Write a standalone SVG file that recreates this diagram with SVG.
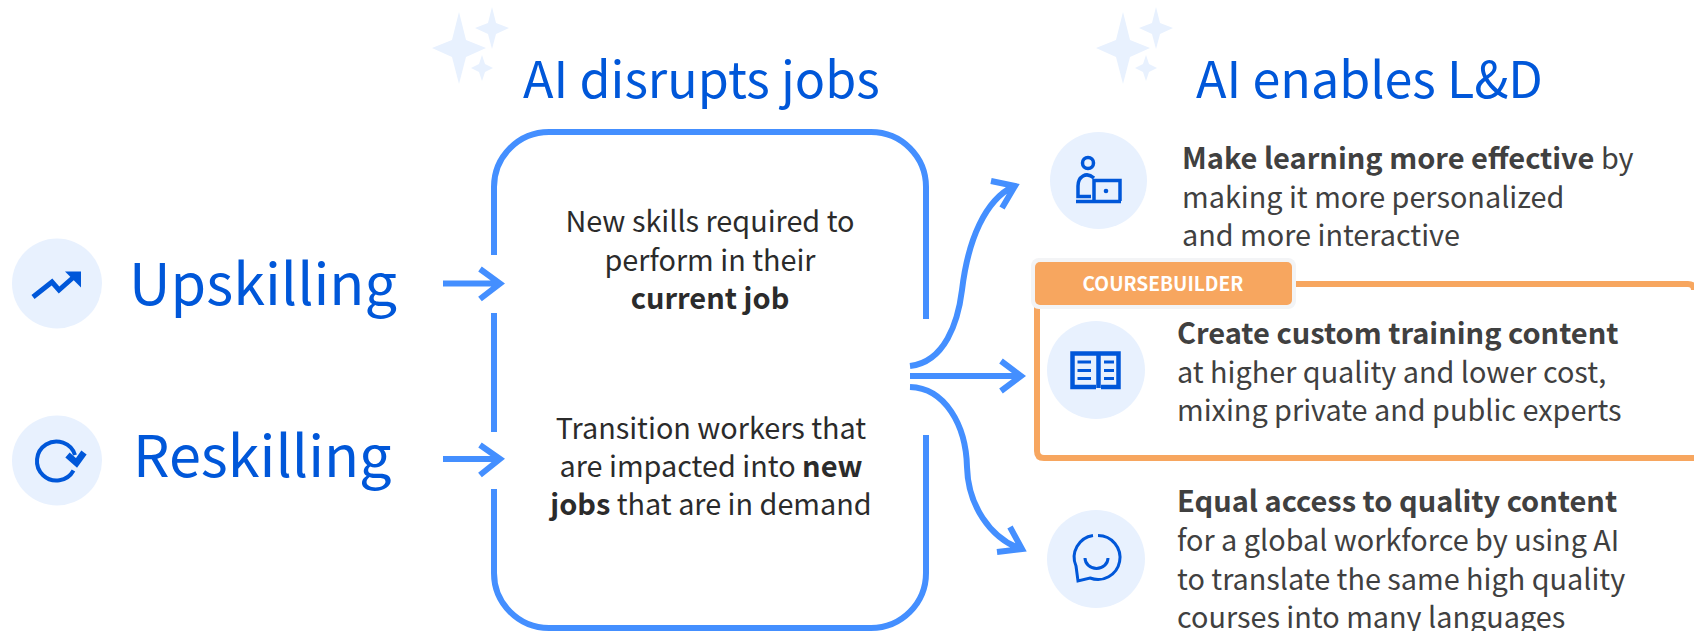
<svg xmlns="http://www.w3.org/2000/svg" width="1694" height="631" viewBox="0 0 1694 631">
<style>
text{font-family:"Noto Sans CJK SC","Source Sans Pro","Noto Sans",sans-serif}
.h{fill:#0057d9;font-size:50.200px}
.k{fill:#0057d9;font-size:57.600px}
.b{fill:#2b2b2b;font-size:28.800px}
.r{fill:#404040;font-size:28.800px}
.s{font-weight:700;font-size:29px}
.bg{fill:#e8f1fe}
.ic{fill:none;stroke:#0057d9;stroke-width:3.500}
.line{fill:none;stroke:#448fff;stroke-width:6}
.star{fill:#e8f1fe}
</style>
<rect width="1694" height="631" fill="#fff"/>
<g id="stars-left"><path class="star" d="M459 12L466 40L486 48L466 57L459 84L452 57L432 48L452 40Z"/><path class="star" d="M492 7L496 23L509 28L496 34L492 49L488 34L475 28L488 23Z"/><path class="star" d="M482 55L485 64L493 68L485 72L482 81L479 72L471 68L479 64Z"/></g>
<g id="stars-right"><path class="star" d="M1123 12L1130 40L1150 48L1130 57L1123 84L1116 57L1096 48L1116 40Z"/><path class="star" d="M1156 7L1160 23L1173 28L1160 34L1156 49L1152 34L1139 28L1152 23Z"/><path class="star" d="M1146 55L1149 64L1157 68L1149 72L1146 81L1143 72L1135 68L1143 64Z"/></g>
<g id="title-left"><text class="h" x="523" y="98">AI disrupts jobs</text></g>
<g id="title-right"><text class="h" x="1196" y="98">AI enables L&amp;D</text></g>
<g id="upskilling"><circle class="bg" cx="57" cy="283.500" r="45"/><path d="M33 297L52 282L59 290L76 275" fill="none" stroke="#0057d9" stroke-width="5"/><path d="M65 271.500H81V287.500Z" fill="#0057d9"/><text class="k" x="129" y="305">Upskilling</text></g>
<g id="reskilling"><circle class="bg" cx="57" cy="460.500" r="45"/><path d="M73.500 470.500A19.500 19.500 0 1 1 75 455" fill="none" stroke="#0057d9" stroke-width="4"/><path d="M67.500 455L76.500 463L84 452.500" fill="none" stroke="#0057d9" stroke-width="6.500"/><text class="k" x="133" y="477">Reskilling</text></g>
<g id="jobs-box"><path class="line" d="M494 255V187A55 55 0 0 1 549 132H871A55 55 0 0 1 926 187V319M926 435V573A55 55 0 0 1 871 628H549A55 55 0 0 1 494 573V489M494 432V313"/>
<text class="b" text-anchor="middle" x="710" y="232">New skills required to</text><text class="b" text-anchor="middle" x="710" y="271">perform in their</text><text class="b s" text-anchor="middle" x="710" y="309">current job</text>
<text class="b" text-anchor="middle" x="711" y="439">Transition workers that</text><text class="b" text-anchor="middle" x="711" y="477">are impacted into <tspan class="s">new</tspan></text><text class="b" text-anchor="middle" x="711" y="515"><tspan class="s">jobs</tspan> that are in demand</text></g>
<g id="card-effective"><circle class="bg" cx="1098.500" cy="180.500" r="48.500"/><circle class="ic" cx="1088" cy="163" r="5.500"/><path class="ic" d="M1094 178C1086 171 1078 177 1078 186V196.500H1091M1076 201.500H1121M1094 201V180.500H1120V201"/><circle cx="1106" cy="191" r="2.300" fill="#0057d9"/>
<text class="r" x="1182" y="169"><tspan class="s">Make learning more effective</tspan> by</text><text class="r" x="1182" y="208">making it more personalized</text><text class="r" x="1182" y="246">and more interactive</text></g>
<g id="card-content"><path d="M1037 300V451Q1037 458 1044 458H1700M1291 284H1688Q1694 284 1694 290" fill="none" stroke="#f7a65f" stroke-width="6"/>
<rect x="1031" y="258" width="265" height="51" rx="8" fill="#f3f4f6"/><rect x="1035" y="262" width="257" height="43" rx="5" fill="#f7a65f"/><text x="1163" y="291" text-anchor="middle" fill="#fff" font-size="19.200" font-weight="700">COURSEBUILDER</text>
<circle class="bg" cx="1096" cy="370" r="49"/><path class="ic" style="stroke-width:4.500" d="M1096 387H1072.500V353.500H1118.500V387H1101M1098.500 353.500V388"/><path d="M1077.500 362H1091M1077.500 370.500H1091M1077.500 378.500H1091M1104 362H1114M1104 370.500H1114M1104 378.500H1114" fill="none" stroke="#0057d9" stroke-width="3"/>
<text class="r" x="1177" y="344"><tspan class="s">Create custom training content</tspan></text><text class="r" x="1177" y="383">at higher quality and lower cost,</text><text class="r" x="1177" y="421">mixing private and public experts</text></g>
<g id="card-access"><circle class="bg" cx="1096" cy="559" r="49"/><path class="ic" style="stroke-width:3" d="M1098 535.500A22 22 0 1 1 1090 578L1078 581L1076 566A22 22 0 0 1 1093 535.500"/><path class="ic" style="stroke-width:3" d="M1085 558A11 10 0 0 0 1108 558"/>
<text class="r" x="1177" y="512"><tspan class="s">Equal access to quality content</tspan></text><text class="r" x="1177" y="551">for a global workforce by using AI</text><text class="r" x="1177" y="590">to translate the same high quality</text><text class="r" x="1177" y="627.500">courses into many languages</text></g>
<g id="connectors"><path class="line" d="M443 283.500H499M480 269L500 283.500L480 299"/><path class="line" d="M443 459H499M480 445L500 459L480 475"/>
<path class="line" d="M910 366C945 362 958 322 962 290C968 240 985 200 1014 186M991 181L1015 186L1002 208"/>
<path class="line" d="M910 376H1019M1001 361L1021 376L1001 391"/>
<path class="line" d="M910 387C945 388 966 425 967 467C968 505 990 538 1021 549M1010 527L1022 549L997 552"/></g>
</svg>
